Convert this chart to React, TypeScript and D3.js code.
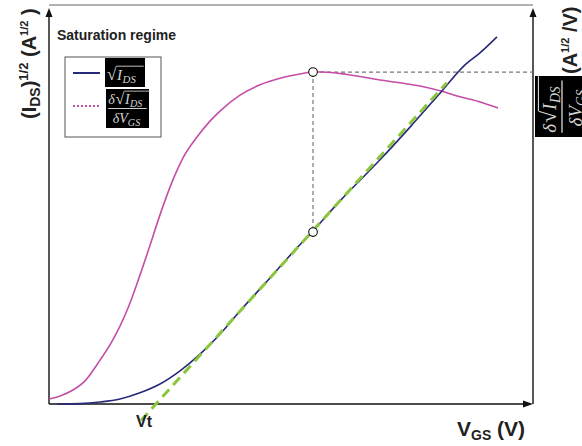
import React from "react";
import * as d3 from "d3";

// Gate voltage samples (arbitrary units) and sqrt(IDS) curve
const VGS_SQRT = [0.165, 0.64, 1.054, 1.467, 1.88, 2.293, 2.707, 3.12, 3.533, 3.946, 4.566, 5.083, 5.434, 6.012, 6.839, 7.459, 8.079, 8.595, 8.905, 9.256];
const SQRT_IDS = [0, 0.001, 0.005, 0.0125, 0.028, 0.05, 0.083, 0.125, 0.175, 0.233, 0.316, 0.386, 0.431, 0.509, 0.612, 0.694, 0.779, 0.85, 0.88, 0.92];

// Derivative d sqrt(IDS)/dVGS
const VGS_DERIV = [0, 0.227, 0.496, 0.744, 1.054, 1.26, 1.467, 1.674, 1.88, 2.087, 2.293, 2.541, 2.769, 3.058, 3.326, 3.533, 3.946, 4.36, 4.793, 5.186, 5.455, 5.64, 6.157, 6.839, 7.252, 7.665, 8.079, 8.492, 8.905, 9.277];
const DERIV = [0.0125, 0.02, 0.035, 0.058, 0.11, 0.148, 0.195, 0.253, 0.323, 0.398, 0.474, 0.556, 0.617, 0.669, 0.709, 0.734, 0.774, 0.8, 0.817, 0.827, 0.832, 0.832, 0.826, 0.812, 0.805, 0.797, 0.785, 0.77, 0.757, 0.742];

// Tangent (linear extrapolation) parameters
const VT = 2.21;
const TANGENT_SLOPE = 0.134;
const TANGENT_RANGE = [1.9, 8.22];

// Point of maximum transconductance
const VGS_MAX = 5.455;
const DERIV_MAX = 0.832;
const SQRT_AT_MAX = 0.431;

const FONT = "'Liberation Sans', Arial, Helvetica, sans-serif";
const SERIF = "'Liberation Serif', 'DejaVu Serif', serif";
const TEX = "#d4d4d4";

function SqrtIds({ x, y, fs }: { x: number; y: number; fs: number }) {
  const r = fs * 0.62;
  return (
    <g fill={TEX} fontFamily={SERIF}>
      <text x={x} y={y} fontSize={fs * 1.15}>√</text>
      <line x1={x + r} x2={x + fs * 2.45} y1={y - fs * 0.92} y2={y - fs * 0.92} stroke={TEX} strokeWidth={fs * 0.06} />
      <text x={x + r + fs * 0.05} y={y} fontSize={fs} fontStyle="italic">I</text>
      <text x={x + r + fs * 0.42} y={y + fs * 0.2} fontSize={fs * 0.72} fontStyle="italic">DS</text>
    </g>
  );
}

function Frac({ fs }: { fs: number }) {
  const w = fs * 2.75;
  return (
    <g>
      <text x={-w / 2} y={-fs * 0.32} fontSize={fs} fill={TEX} fontFamily={SERIF} fontStyle="italic">δ</text>
      <SqrtIds x={-w / 2 + fs * 0.52} y={-fs * 0.32} fs={fs} />
      <line x1={-w / 2} x2={w / 2} y1={0} y2={0} stroke={TEX} strokeWidth={fs * 0.07} />
      <text x={-fs * 1.05} y={fs * 1.05} fontSize={fs} fill={TEX} fontFamily={SERIF} fontStyle="italic">
        δV
        <tspan fontSize={fs * 0.72} dy={fs * 0.2}>GS</tspan>
      </text>
    </g>
  );
}

export default function App() {
  const W = 582, H = 446;
  const x = d3.scaleLinear().domain([0, 10]).range([49, 533]);
  const y = d3.scaleLinear().domain([0, 1]).range([404, 5]);
  const y2 = d3.scaleLinear().domain([0, 1]).range([404, 5]);

  const line = d3.line<[number, number]>().x(d => x(d[0])).y(d => y(d[1])).curve(d3.curveMonotoneX);
  const line2 = d3.line<[number, number]>().x(d => x(d[0])).y(d => y2(d[1])).curve(d3.curveMonotoneX);

  const blue = VGS_SQRT.map((v, i) => [v, SQRT_IDS[i]] as [number, number]);
  const pink = VGS_DERIV.map((v, i) => [v, DERIV[i]] as [number, number]);
  const tangent = TANGENT_RANGE.map(v => [v, TANGENT_SLOPE * (v - VT)] as [number, number]);

  const x0 = x(0), x1 = x(10), yb = y(0), yt = y(1);

  return (
    <svg width={W} height={H} style={{ position: "absolute", left: 0, top: 0 }} fontFamily={FONT}>
      <rect width={W} height={H} fill="#fff" />

      {/* frame */}
      <line x1={x0} x2={x1} y1={yt} y2={yt} stroke="#666" strokeWidth={1.2} />
      <line x1={x0} x2={x0} y1={yb} y2={yt + 10} stroke="#111" strokeWidth={1.4} />
      <path d={`M${x0},${yt + 3} L${x0 - 3.5},${yt + 12} L${x0 + 3.5},${yt + 12} Z`} fill="#111" />
      <line x1={x1} x2={x1} y1={yb} y2={yt + 10} stroke="#111" strokeWidth={1.4} />
      <path d={`M${x1},${yt + 3} L${x1 - 3.5},${yt + 12} L${x1 + 3.5},${yt + 12} Z`} fill="#111" />
      <line x1={x0} x2={x1 - 8} y1={yb} y2={yb} stroke="#111" strokeWidth={1.4} />
      <path d={`M${x1},${yb} L${x1 - 10},${yb - 3.5} L${x1 - 10},${yb + 3.5} Z`} fill="#111" />

      {/* guides */}
      <line x1={x(VGS_MAX)} x2={x1} y1={y2(DERIV_MAX)} y2={y2(DERIV_MAX)} stroke="#777" strokeWidth={1.2} strokeDasharray="4,3" />
      <line x1={x(VGS_MAX)} x2={x(VGS_MAX)} y1={y2(DERIV_MAX)} y2={y(SQRT_AT_MAX)} stroke="#777" strokeWidth={1.2} strokeDasharray="4,3" />

      {/* curves */}
      <path d={line2(pink) || ""} fill="none" stroke="#c44ea6" strokeWidth={1.6} />
      <path d={line(blue) || ""} fill="none" stroke="#262a78" strokeWidth={1.6} />
      <path d={d3.line<[number, number]>().x(d => x(d[0])).y(d => y(d[1]))(tangent) || ""} fill="none" stroke="#8cc63e" strokeWidth={3} strokeDasharray="10,6" />

      {/* markers */}
      <circle cx={x(VGS_MAX)} cy={y2(DERIV_MAX)} r={4.3} fill="#fff" stroke="#111" strokeWidth={1.1} />
      <circle cx={x(VGS_MAX)} cy={y(SQRT_AT_MAX)} r={4.3} fill="#fff" stroke="#111" strokeWidth={1.1} />

      {/* title */}
      <text x={57} y={40} fontSize={14} fontWeight="bold" fill="#222">Saturation regime</text>

      {/* legend */}
      <rect x={65} y={57} width={96} height={80} fill="#fff" stroke="#555" strokeWidth={1} />
      <line x1={73} x2={100} y1={73} y2={73} stroke="#262a78" strokeWidth={2} />
      <line x1={73} x2={100} y1={106} y2={106} stroke="#c44ea6" strokeWidth={2} strokeDasharray="2,2" />
      <rect x={105} y={58} width={40} height={29} fill="#000" />
      <SqrtIds x={107} y={80} fs={15} />
      <rect x={106} y={89} width={43} height={39} fill="#000" />
      <g transform="translate(127.5,108.5)"><Frac fs={14} /></g>

      {/* axis labels */}
      <text x={136} y={427} fontSize={16} fontWeight="bold" fill="#222">Vt</text>
      <text x={457} y={436} fontSize={21} fontWeight="bold" fill="#222">
        V<tspan fontSize={14} dy={4}>GS</tspan><tspan dy={-4}> (V)</tspan>
      </text>

      <text transform="translate(36,119) rotate(-90)" fontSize={20} fontWeight="bold" fill="#222">
        (I<tspan fontSize={14} dy={4}>DS</tspan><tspan dy={-4}>)</tspan>
        <tspan fontSize={13} dy={-8}>1/2</tspan>
        <tspan dy={8}> (A</tspan>
        <tspan fontSize={11} dy={-8}>1/2</tspan>
        <tspan dy={8}> )</tspan>
      </text>

      <text transform="translate(577,74) rotate(-90)" fontSize={20} fontWeight="bold" fill="#222">
        (A<tspan fontSize={11} dy={-8}>1/2</tspan><tspan dy={8}> /V)</tspan>
      </text>

      <rect x={535} y={76} width={50} height={61} fill="#000" />
      <g transform="translate(562,106.5) rotate(-90)"><Frac fs={19} /></g>
    </svg>
  );
}
